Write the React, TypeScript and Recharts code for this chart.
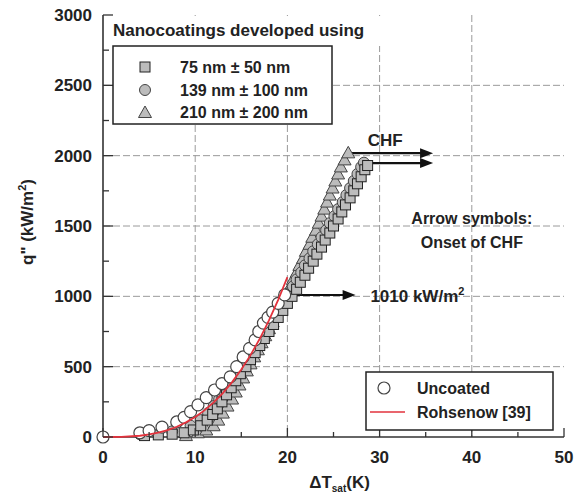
import React from 'react';
import {
  ComposedChart, Scatter, XAxis, YAxis, CartesianGrid, ReferenceLine, ReferenceDot,
} from 'recharts';

// 75 nm +/- 50 nm coating (squares)
const nano75 = [
  { t: 4.5, q: 10 }, { t: 6.0, q: 15 }, { t: 7.5, q: 20 }, { t: 8.8, q: 30 }, { t: 9.8, q: 50 },
  { t: 10.6, q: 80 }, { t: 11.3, q: 120 }, { t: 11.9, q: 160 }, { t: 12.4, q: 200 }, { t: 12.9, q: 250 },
  { t: 13.4, q: 300 }, { t: 13.9, q: 350 }, { t: 14.4, q: 400 }, { t: 14.9, q: 450 }, { t: 15.5, q: 500 },
  { t: 16.0, q: 550 }, { t: 16.5, q: 600 }, { t: 17.0, q: 650 }, { t: 17.5, q: 700 }, { t: 18.0, q: 750 },
  { t: 18.5, q: 800 }, { t: 19.0, q: 850 }, { t: 19.5, q: 900 }, { t: 20.0, q: 950 }, { t: 20.5, q: 1000 },
  { t: 21.0, q: 1050 }, { t: 21.4, q: 1100 }, { t: 21.9, q: 1150 }, { t: 22.3, q: 1200 }, { t: 22.8, q: 1250 },
  { t: 23.2, q: 1300 }, { t: 23.7, q: 1350 }, { t: 24.1, q: 1400 }, { t: 24.6, q: 1450 }, { t: 25.0, q: 1500 },
  { t: 25.5, q: 1550 }, { t: 25.9, q: 1600 }, { t: 26.3, q: 1650 }, { t: 26.8, q: 1700 }, { t: 27.2, q: 1750 },
  { t: 27.6, q: 1800 }, { t: 28.0, q: 1850 }, { t: 28.4, q: 1900 }, { t: 28.7, q: 1930 },
];

// 139 nm +/- 100 nm coating (grey circles)
const nano139 = [
  { t: 4.0, q: 20 }, { t: 7.5, q: 40 }, { t: 9.5, q: 80 }, { t: 10.6, q: 120 }, { t: 11.4, q: 170 },
  { t: 12.0, q: 220 }, { t: 12.6, q: 270 }, { t: 13.1, q: 320 }, { t: 13.6, q: 370 }, { t: 14.1, q: 420 },
  { t: 14.6, q: 470 }, { t: 15.1, q: 520 }, { t: 15.6, q: 570 }, { t: 16.1, q: 620 }, { t: 16.6, q: 670 },
  { t: 17.1, q: 720 }, { t: 17.6, q: 770 }, { t: 18.1, q: 820 }, { t: 18.6, q: 870 }, { t: 19.1, q: 920 },
  { t: 19.6, q: 970 }, { t: 20.1, q: 1020 }, { t: 20.6, q: 1070 }, { t: 21.0, q: 1120 }, { t: 21.5, q: 1170 },
  { t: 21.9, q: 1220 }, { t: 22.4, q: 1270 }, { t: 22.8, q: 1320 }, { t: 23.3, q: 1370 }, { t: 23.7, q: 1420 },
  { t: 24.2, q: 1470 }, { t: 24.6, q: 1520 }, { t: 25.1, q: 1570 }, { t: 25.5, q: 1620 }, { t: 26.0, q: 1670 },
  { t: 26.4, q: 1720 }, { t: 26.8, q: 1770 }, { t: 27.2, q: 1820 }, { t: 27.6, q: 1870 }, { t: 28.0, q: 1920 },
  { t: 28.3, q: 1950 },
];

// 210 nm +/- 200 nm coating (triangles)
const nano210 = [
  { t: 9.0, q: 10 }, { t: 10.3, q: 30 }, { t: 11.2, q: 50 }, { t: 12.0, q: 80 }, { t: 12.5, q: 120 },
  { t: 13.0, q: 170 }, { t: 13.5, q: 220 }, { t: 14.0, q: 270 }, { t: 14.4, q: 320 }, { t: 14.8, q: 370 },
  { t: 15.2, q: 420 }, { t: 15.6, q: 470 }, { t: 16.0, q: 520 }, { t: 16.4, q: 570 }, { t: 16.8, q: 620 },
  { t: 17.2, q: 670 }, { t: 17.6, q: 720 }, { t: 18.0, q: 770 }, { t: 18.4, q: 820 }, { t: 18.8, q: 870 },
  { t: 19.2, q: 920 }, { t: 19.6, q: 970 }, { t: 19.9, q: 1020 }, { t: 20.3, q: 1070 }, { t: 20.6, q: 1120 },
  { t: 21.0, q: 1170 }, { t: 21.3, q: 1220 }, { t: 21.7, q: 1270 }, { t: 22.0, q: 1320 }, { t: 22.4, q: 1370 },
  { t: 22.7, q: 1420 }, { t: 23.1, q: 1470 }, { t: 23.4, q: 1520 }, { t: 23.7, q: 1570 }, { t: 24.0, q: 1620 },
  { t: 24.3, q: 1670 }, { t: 24.6, q: 1720 }, { t: 24.9, q: 1770 }, { t: 25.2, q: 1820 }, { t: 25.5, q: 1870 },
  { t: 25.8, q: 1920 }, { t: 26.2, q: 1970 }, { t: 26.6, q: 2020 },
];

// uncoated surface (open circles)
const uncoated = [
  { t: 0, q: 0 }, { t: 4.0, q: 30 }, { t: 5.0, q: 45 }, { t: 6.4, q: 70 }, { t: 8.0, q: 107 },
  { t: 8.8, q: 140 }, { t: 9.5, q: 180 }, { t: 10.3, q: 228 }, { t: 11.2, q: 280 }, { t: 12.1, q: 334 },
  { t: 12.9, q: 380 }, { t: 13.8, q: 427 }, { t: 14.5, q: 500 }, { t: 15.2, q: 569 }, { t: 15.9, q: 630 },
  { t: 16.5, q: 690 }, { t: 16.9, q: 750 }, { t: 17.4, q: 810 }, { t: 17.9, q: 850 }, { t: 18.4, q: 888 },
  { t: 19.0, q: 950 }, { t: 19.7, q: 1010 },
];

// Rohsenow correlation
const rohsenow = [
  { t: 0, q: 0 }, { t: 2, q: 1 }, { t: 4, q: 9 }, { t: 5, q: 18 }, { t: 6, q: 31 }, { t: 7, q: 49 },
  { t: 8, q: 73 }, { t: 9, q: 104 }, { t: 10, q: 142 }, { t: 11, q: 189 }, { t: 12, q: 246 },
  { t: 13, q: 312 }, { t: 14, q: 390 }, { t: 15, q: 480 }, { t: 16, q: 582 }, { t: 17, q: 698 },
  { t: 18, q: 829 }, { t: 19, q: 975 }, { t: 20, q: 1137 },
];

const xTicks = [0, 5, 10, 15, 20, 25, 30, 35, 40, 45, 50];
const yTicks = [0, 250, 500, 750, 1000, 1250, 1500, 1750, 2000, 2250, 2500, 2750, 3000];
const xGrid = [10, 20, 30, 40];
const yGrid = [500, 1000, 1500, 2000, 2500];

const FONT = '"Liberation Sans", Arial, sans-serif';
const INK = '#222';
const GREY = '#bcbcbc';
const RED = '#e2323c';

const SquareMark = (p: any) => (
  <rect x={p.cx - 5} y={p.cy - 5} width={10} height={10} fill={GREY} stroke={INK} strokeWidth={1} />
);
const CircleMark = (p: any) => (
  <circle cx={p.cx} cy={p.cy} r={5.5} fill={GREY} stroke="#444" strokeWidth={1} />
);
const TriangleMark = (p: any) => (
  <polygon
    points={`${p.cx},${p.cy - 6.5} ${p.cx - 6.5},${p.cy + 5} ${p.cx + 6.5},${p.cy + 5}`}
    fill={GREY}
    stroke="#444"
    strokeWidth={1}
  />
);
const OpenMark = (p: any) => (
  <circle cx={p.cx} cy={p.cy} r={6} fill="#fff" stroke="#444" strokeWidth={1.2} />
);
const NoMark = () => <g />;

const ArrowHead = (p: any) => (
  <polygon points={`${p.cx},${p.cy} ${p.cx - 13},${p.cy - 5} ${p.cx - 13},${p.cy + 5}`} fill="#111" />
);

const textStyle = { fontFamily: FONT, fontWeight: 700, fill: INK };

const LeftTick = (props: any) => {
  const { x, y, payload } = props;
  const major = payload.value % 500 === 0;
  return (
    <g>
      <line x1={x + 11} x2={x + 11 + (major ? 10 : 6)} y1={y} y2={y} stroke="#333" strokeWidth={1.3} />
      {major && (
        <text x={x} y={y} dy="0.35em" textAnchor="end" fontSize={17} style={textStyle}>
          {payload.value}
        </text>
      )}
    </g>
  );
};

const RightTick = (props: any) => {
  const { x, y, payload } = props;
  const major = payload.value % 500 === 0;
  return <line x1={x} x2={x - (major ? 10 : 6)} y1={y} y2={y} stroke="#333" strokeWidth={1.3} />;
};

const BottomTick = (props: any) => {
  const { x, y, payload } = props;
  const major = payload.value % 10 === 0;
  return (
    <g>
      <line x1={x} x2={x} y1={y} y2={y - (major ? 9 : 5)} stroke="#333" strokeWidth={1.3} />
      {major && (
        <text x={x} y={y + 26} textAnchor="middle" fontSize={17} style={textStyle}>
          {payload.value}
        </text>
      )}
    </g>
  );
};

const TopTick = (props: any) => {
  const { x, y, payload } = props;
  const major = payload.value % 10 === 0;
  return <line x1={x} x2={x} y1={y} y2={y + (major ? 9 : 5)} stroke="#333" strokeWidth={1.3} />;
};

const YTitle = (props: any) => {
  const vb = props.viewBox;
  const cx = vb.x + 27;
  const cy = vb.y + vb.height / 2 - 4;
  return (
    <text x={cx} y={cy} transform={`rotate(-90 ${cx} ${cy})`} dy="0.35em" textAnchor="middle" fontSize={17} style={textStyle}>
      q" (kW/m<tspan dy={-7} fontSize={11}>2</tspan><tspan dy={7}>)</tspan>
    </text>
  );
};

const XTitle = (props: any) => {
  const vb = props.viewBox;
  return (
    <text x={vb.x + vb.width / 2 + 6} y={vb.y + 51} textAnchor="middle" fontSize={17} style={textStyle}>
      ΔT<tspan dy={4} fontSize={10}>sat</tspan><tspan dy={-4}>(K)</tspan>
    </text>
  );
};

const label = (lines: string[], anchor: string, size = 17) => (p: any) => (
  <text x={p.cx} y={p.cy} textAnchor={anchor} fontSize={size} style={textStyle}>
    {lines.map((l, i) => (
      <tspan key={i} x={p.cx} dy={i === 0 ? 0 : 24}>{l}</tspan>
    ))}
  </text>
);

const Label1010 = (p: any) => (
  <text x={p.cx} y={p.cy} textAnchor="start" fontSize={17} style={textStyle}>
    1010 kW/m<tspan dy={-7} fontSize={11}>2</tspan>
  </text>
);

const App: React.FC = () => {
  return (
    <div style={{ position: 'absolute', left: 0, top: 0, width: 574, height: 497, background: '#fff' }}>
      <ComposedChart width={574} height={497} margin={{ top: 15, right: 10, bottom: 0, left: 0 }}>
        <CartesianGrid
          horizontal
          vertical
          horizontalValues={yGrid}
          verticalValues={xGrid}
          stroke="#9a9a9a"
          strokeDasharray="7 3"
        />
        <XAxis
          dataKey="t"
          type="number"
          domain={[0, 50]}
          ticks={xTicks}
          interval={0}
          height={60}
          tickSize={0}
          tickMargin={0}
          tick={<BottomTick />}
          axisLine={{ stroke: '#333', strokeWidth: 1.6 }}
          tickLine={false}
          label={{ content: <XTitle /> }}
        />
        <XAxis
          xAxisId="top"
          orientation="top"
          type="number"
          domain={[0, 50]}
          ticks={xTicks}
          interval={0}
          height={0}
          tickSize={0}
          tickMargin={0}
          tick={<TopTick />}
          axisLine={{ stroke: '#333', strokeWidth: 1.6 }}
          tickLine={false}
        />
        <YAxis
          dataKey="q"
          type="number"
          domain={[0, 3000]}
          ticks={yTicks}
          interval={0}
          width={103}
          tickSize={0}
          tickMargin={11}
          tick={<LeftTick />}
          axisLine={{ stroke: '#333', strokeWidth: 1.6 }}
          tickLine={false}
          label={{ content: <YTitle /> }}
        />
        <YAxis
          yAxisId="right"
          orientation="right"
          type="number"
          domain={[0, 3000]}
          ticks={yTicks}
          interval={0}
          width={0}
          tickSize={0}
          tickMargin={0}
          tick={<RightTick />}
          axisLine={{ stroke: '#333', strokeWidth: 1.6 }}
          tickLine={false}
        />

        <Scatter data={nano210} shape={TriangleMark} isAnimationActive={false} />
        <Scatter data={nano139} shape={CircleMark} isAnimationActive={false} />
        <Scatter data={nano75} shape={SquareMark} isAnimationActive={false} />
        <Scatter data={uncoated} shape={OpenMark} isAnimationActive={false} />
        <Scatter
          data={rohsenow}
          shape={NoMark}
          line={{ stroke: RED, strokeWidth: 1.8 }}
          lineType="joint"
          isAnimationActive={false}
        />

        <ReferenceLine segment={[{ x: 19.7, y: 1010 }, { x: 26.5, y: 1010 }]} stroke="#111" strokeWidth={2} />
        <ReferenceDot x={27.4} y={1010} shape={ArrowHead} />
        <ReferenceLine segment={[{ x: 27.0, y: 2018 }, { x: 35.0, y: 2018 }]} stroke="#111" strokeWidth={2.2} />
        <ReferenceDot x={35.8} y={2018} shape={ArrowHead} />
        <ReferenceLine segment={[{ x: 28.6, y: 1947 }, { x: 35.0, y: 1947 }]} stroke="#111" strokeWidth={2.2} />
        <ReferenceDot x={35.8} y={1947} shape={ArrowHead} />

        <ReferenceDot x={29.0} y={962} shape={Label1010} />
        <ReferenceDot x={30.6} y={2068} shape={label(['CHF'], 'middle')} />
        <ReferenceDot x={40.0} y={1514} shape={label(['Arrow symbols:', 'Onset of CHF'], 'middle', 16)} />
      </ComposedChart>

      <svg width={574} height={497} style={{ position: 'absolute', left: 0, top: 0, pointerEvents: 'none' }}>
        <rect x={104} y={16} width={320} height={30} fill="#fff" />
        <text x={113} y={36} fontSize={17} style={textStyle}>Nanocoatings developed using</text>
        <rect x={113} y={46} width={219} height={78} fill="#fff" stroke="#222" strokeWidth={1.5} />
        <rect x={140} y={62} width={10} height={10} fill={GREY} stroke={INK} strokeWidth={1} />
        <circle cx={145} cy={90} r={5.5} fill={GREY} stroke="#444" strokeWidth={1} />
        <polygon points="145,106 138.5,117.5 151.5,117.5" fill={GREY} stroke="#444" strokeWidth={1} />
        <text x={180} y={73} fontSize={16} style={textStyle}>75 nm ± 50 nm</text>
        <text x={180} y={96} fontSize={16} style={textStyle}>139 nm ± 100 nm</text>
        <text x={180} y={118} fontSize={16} style={textStyle}>210 nm ± 200 nm</text>

        <rect x={366} y={372} width={187} height={58} fill="#fff" stroke="#222" strokeWidth={1.5} />
        <circle cx={384} cy={388} r={6} fill="#fff" stroke="#444" strokeWidth={1.2} />
        <line x1={370} x2={405} y1={412} y2={412} stroke={RED} strokeWidth={1.6} />
        <text x={417} y={394} fontSize={16} style={textStyle}>Uncoated</text>
        <text x={417} y={418} fontSize={16} style={textStyle}>Rohsenow [39]</text>
      </svg>
    </div>
  );
};

export default App;
